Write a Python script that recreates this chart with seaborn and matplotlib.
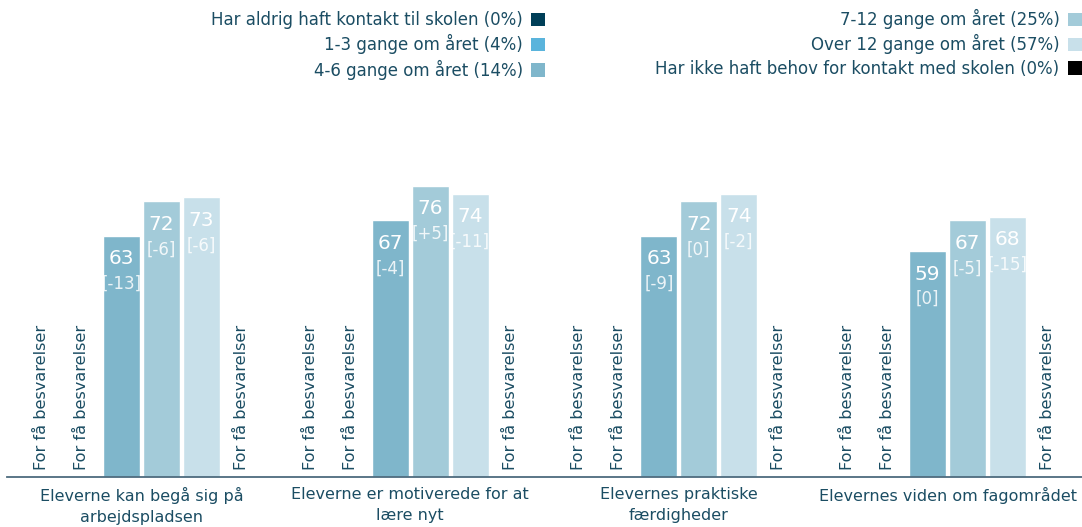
import numpy as np
import pandas as pd
import seaborn as sns
import matplotlib.pyplot as plt
from matplotlib.patches import Patch

# data
groups = ["Eleverne kan begå sig på\narbejdspladsen",
          "Eleverne er motiverede for at\nlære nyt",
          "Elevernes praktiske\nfærdigheder",
          "Elevernes viden om fagområdet"]
series = ["Har aldrig haft kontakt til skolen (0%)",
          "1-3 gange om året (4%)",
          "4-6 gange om året (14%)",
          "7-12 gange om året (25%)",
          "Over 12 gange om året (57%)",
          "Har ikke haft behov for kontakt med skolen (0%)"]
colors = ["#003f58", "#5ab4dc", "#7fb6cb", "#a3cbd9", "#c8e0ea", "#000000"]

# NaN = "For få besvarelser"
v_aldrig = [np.nan, np.nan, np.nan, np.nan]
v_1_3 = [np.nan, np.nan, np.nan, np.nan]
v_4_6 = [63, 67, 63, 59]
v_7_12 = [72, 76, 72, 67]
v_over12 = [73, 74, 74, 68]
v_ikke = [np.nan, np.nan, np.nan, np.nan]

d_4_6 = ["[-13]", "[-4]", "[-9]", "[0]"]
d_7_12 = ["[-6]", "[+5]", "[0]", "[-5]"]
d_over12 = ["[-6]", "[-11]", "[-2]", "[-15]"]

values = [v_aldrig, v_1_3, v_4_6, v_7_12, v_over12, v_ikke]
diffs = [None, None, d_4_6, d_7_12, d_over12, None]

rows = []
for s, vals in zip(series, values):
    for g, v in zip(groups, vals):
        rows.append({"group": g, "series": s, "value": v})
df = pd.DataFrame(rows)

sns.set_style("white")
plt.rcParams['font.family'] = ['DejaVu Sans']
txt_color = "#1b4d63"

fig = plt.figure(figsize=(10.82, 5.27), dpi=100)
ax = fig.add_axes([7 / 1082, 1 - 477 / 527, 1075 / 1082, (477 - 94) / 527])

width = 0.892
sns.barplot(data=df, x="group", y="value", hue="series", hue_order=series,
            order=groups, palette=colors, width=width, gap=0.075,
            saturation=1, errorbar=None, legend=False, ax=ax)

ax.set_ylim(0, 100)
ax.set_xlim(-0.5, 3.5)
ax.set_xlabel("")
ax.set_ylabel("")
ax.set_yticks([])
for sp in ["top", "right", "left"]:
    ax.spines[sp].set_visible(False)
ax.spines["bottom"].set_color("#4d6b7e")
ax.spines["bottom"].set_linewidth(1.3)
ax.tick_params(axis="x", length=0, pad=7, labelsize=11.5, labelcolor=txt_color)
for t in ax.get_xticklabels():
    t.set_linespacing(1.5)

slot = width / len(series)
for j, (vals, dl) in enumerate(zip(values, diffs)):
    for i, v in enumerate(vals):
        x = i + (j - (len(series) - 1) / 2) * slot
        if np.isnan(v):
            ax.annotate("For få besvarelser", xy=(x, 0), xytext=(0, 7),
                        textcoords="offset pixels", rotation=90,
                        ha="center", va="bottom", fontsize=11.6, color=txt_color)
        else:
            ax.annotate(str(int(v)), xy=(x, v), xytext=(0, -23),
                        textcoords="offset pixels", ha="center", va="center",
                        fontsize=14.5, color="white")
            ax.annotate(dl[i], xy=(x, v), xytext=(0, -48),
                        textcoords="offset pixels", ha="center", va="center",
                        fontsize=12, color="white", alpha=0.85)

handles = [Patch(facecolor=c, edgecolor="none") for c in colors]
leg = fig.legend(handles, series, ncol=2, loc="upper right",
                 bbox_to_anchor=(1.0, 1 - 9 / 527), frameon=False,
                 markerfirst=False, fontsize=12, handlelength=0.85,
                 handleheight=0.85, handletextpad=0.5, labelspacing=0.32,
                 columnspacing=6.6, borderaxespad=0, borderpad=0)
for t in leg.get_texts():
    t.set_color(txt_color)

fig.savefig("out.png", dpi=100)
